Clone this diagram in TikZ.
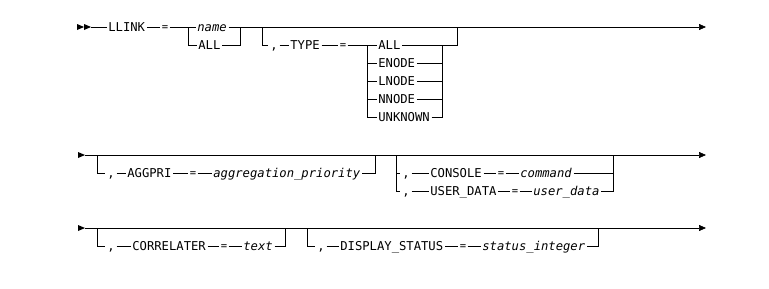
\documentclass[tikz,border=0pt]{standalone}
\usepackage{fontspec}
\setmainfont{DejaVu Sans Mono}
\usetikzlibrary{arrows.meta}

\tikzset{
	kw/.style={inner xsep=1.5pt, inner ysep=0pt, text height=8.7pt, text depth=0pt, anchor=west, font=\fontsize{12.2}{14}\selectfont},
	var/.style={kw, font=\fontsize{12.2}{14}\selectfont\itshape},
	sep/.style={kw, anchor=center},
	eq/.style={inner xsep=1pt, inner ysep=0pt, text height=6.8pt, text depth=0pt, font=\fontsize{10.5}{12}\selectfont},
	rail/.style={line width=0.7pt},
	tail/.style={rail, -{Triangle[length=7pt,width=6pt]}},
}

\begin{document}
\begin{tikzpicture}[x=1pt, y=-1pt, rail]
	\useasboundingbox (0,0) rectangle (769,289);

	% first line: LLINK = name|ALL [,TYPE=...]
	\fill (77,24) -- (84,27) -- (77,30) -- cycle;
	\fill (84,24) -- (91,27) -- (84,30) -- cycle;
	\coordinate (s1) at (91,27);
	\coordinate (e1) at (706,27);
	\node[kw] (llink) at (106.5,27) {LLINK};
	\node[eq] (eq1) at (165,27) {=};
	\node[var] (name) at (195.5,27) {name};
	\node[kw] (all1) at (196.5,45) {ALL};
	\coordinate (j1) at (188,27);
	\coordinate (j2) at (240,27);
	\draw[tail] (s1) -- (llink) -- (eq1) -- (name) -- (e1);
	\draw (j1) |- (all1) -| (j2);

	\coordinate (j3) at (262,27);
	\coordinate (j4) at (457,27);
	\node[sep] (comma1) at (274,45) {,};
	\node[kw] (type) at (288.5,45) {TYPE};
	\node[eq] (eq2) at (343,45) {=};
	\node[kw] (tall) at (376.5,45) {ALL};
	\node[kw] (enode) at (376.5,63) {ENODE};
	\node[kw] (lnode) at (376.5,81) {LNODE};
	\node[kw] (nnode) at (376.5,99) {NNODE};
	\node[kw] (unknown) at (376.5,117) {UNKNOWN};
	\coordinate (j5) at (367,45);
	\coordinate (j6) at (442,45);
	\draw (j3) |- (comma1) -- (type) -- (eq2) -- (tall) -| (j4);
	\foreach \n in {enode, lnode, nnode, unknown} {
		\draw (j5) |- (\n) -| (j6);
	}

	% second line: [,AGGPRI=...] [,CONSOLE=... | ,USER_DATA=...]
	\fill (78,152) -- (85,155) -- (78,158) -- cycle;
	\coordinate (s2) at (85,155);
	\coordinate (e2) at (706,155);
	\draw[tail] (s2) -- (e2);

	\coordinate (j7) at (97,155);
	\coordinate (j8) at (375,155);
	\node[sep] (comma2) at (111,173) {,};
	\node[kw] (aggpri) at (125.5,173) {AGGPRI};
	\node[eq] (eq3) at (193,173) {=};
	\node[var] (aggprio) at (211.5,173) {aggregation\_priority};
	\draw (j7) |- (comma2) -- (aggpri) -- (eq3) -- (aggprio) -| (j8);

	\coordinate (j9) at (396,155);
	\coordinate (j10) at (613,155);
	\node[sep] (comma3) at (406,173) {,};
	\node[kw] (console) at (428.5,173) {CONSOLE};
	\node[eq] (eq4) at (501,173) {=};
	\node[var] (command) at (518.5,173) {command};
	\node[sep] (comma4) at (406,191) {,};
	\node[kw] (userdata) at (428.5,191) {USER\_DATA};
	\node[eq] (eq5) at (515,191) {=};
	\node[var] (udata) at (531.5,191) {user\_data};
	\draw (j9) |- (comma3) -- (console) -- (eq4) -- (command) -| (j10);
	\draw (j9) |- (comma4) -- (userdata) -- (eq5) -- (udata) -| (j10);

	% third line: [,CORRELATER=text] [,DISPLAY_STATUS=...]
	\fill (78,225) -- (85,228) -- (78,231) -- cycle;
	\coordinate (s3) at (85,228);
	\coordinate (e3) at (706,228);
	\draw[tail] (s3) -- (e3);

	\coordinate (j11) at (97,228);
	\coordinate (j12) at (285,228);
	\node[sep] (comma5) at (111,246) {,};
	\node[kw] (correl) at (130.5,246) {CORRELATER};
	\node[eq] (eq6) at (224,246) {=};
	\node[var] (text) at (241.5,246) {text};
	\draw (j11) |- (comma5) -- (correl) -- (eq6) -- (text) -| (j12);

	\coordinate (j13) at (307,228);
	\coordinate (j14) at (598,228);
	\node[sep] (comma6) at (321,246) {,};
	\node[kw] (dstatus) at (338.5,246) {DISPLAY\_STATUS};
	\node[eq] (eq7) at (463,246) {=};
	\node[var] (sint) at (480.5,246) {status\_integer};
	\draw (j13) |- (comma6) -- (dstatus) -- (eq7) -- (sint) -| (j14);
\end{tikzpicture}
\end{document}
